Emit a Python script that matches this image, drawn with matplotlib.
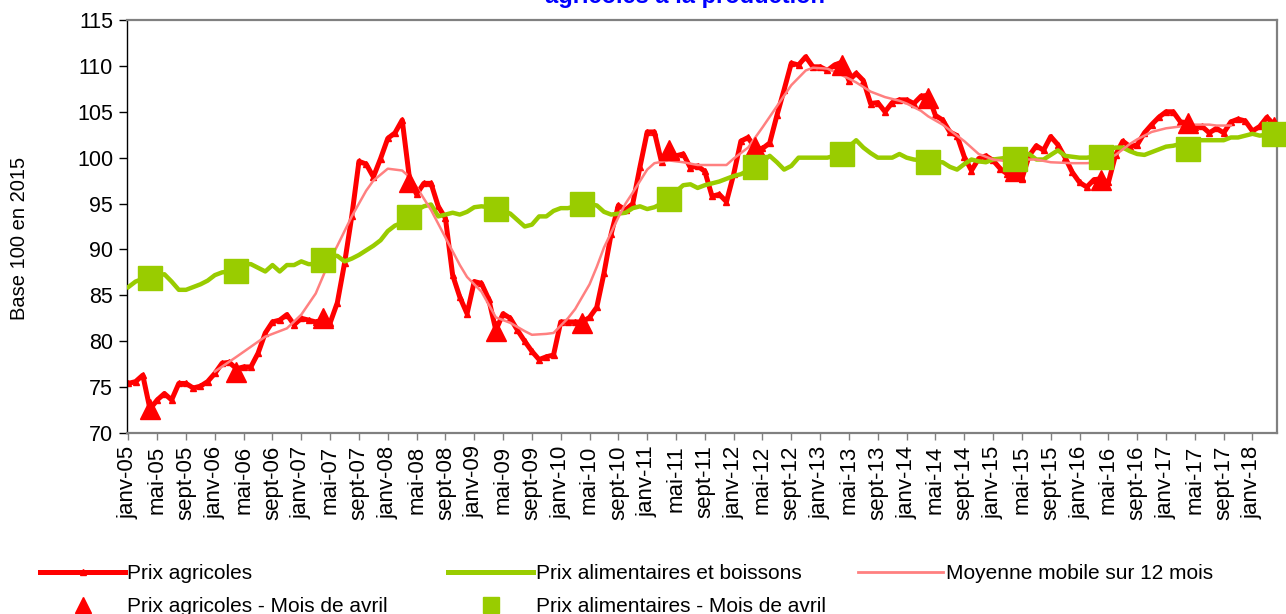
import matplotlib
matplotlib.use("Agg")
import matplotlib.pyplot as plt
from matplotlib.lines import Line2D
import numpy as np

plt.rcParams["font.family"] = ["Liberation Sans", "DejaVu Sans"]

# Indices mensuels, janv-05 .. avril-18 (base 100 en 2015)
prix_agricoles = [
    75.4, 75.6, 76.3, 72.6, 73.6, 74.3, 73.6, 75.4, 75.4, 74.9, 75.1, 75.6,
    76.5, 77.6, 77.7, 77.0, 77.2, 77.2, 78.7, 80.9, 82.1, 82.3, 82.9, 81.8,
    82.5, 82.3, 82.1, 82.3, 82.0, 84.2, 88.5, 93.6, 99.6, 99.3, 97.9, 99.9,
    102.1, 102.7, 104.1, 97.8, 96.0, 97.2, 97.2, 94.7, 93.4, 87.2, 84.8, 83.0,
    86.5, 86.3, 84.6, 81.2, 83.0, 82.5, 81.2, 80.0, 78.9, 78.0, 78.3, 78.5,
    82.1, 82.1, 82.1, 82.1, 82.6, 83.7, 87.4, 91.7, 94.8, 94.3, 95.0, 99.0,
    102.8, 102.8, 99.5, 100.6, 100.2, 100.4, 98.9, 99.1, 98.5, 95.8, 96.0, 95.2,
    98.2, 101.8, 102.2, 101.0, 101.0, 101.6, 104.6, 107.4, 110.3, 110.1, 111.0, 109.9,
    109.9, 109.5, 110.1, 110.4, 108.4, 109.2, 108.4, 105.9, 106.0, 105.0, 106.0, 106.3,
    106.3, 105.9, 106.7, 106.8, 104.6, 104.1, 102.8, 102.4, 100.1, 98.6, 99.9, 100.2,
    99.7, 98.8, 98.2, 98.2, 97.7, 100.2, 101.3, 100.8, 102.3, 101.4, 100.0, 98.4,
    97.3, 96.8, 97.6, 97.7, 97.3, 100.3, 101.8, 101.2, 101.4, 102.7, 103.6, 104.4,
    105.0, 105.0, 103.9, 103.8, 103.3, 103.4, 102.7, 103.2, 102.7, 103.9, 104.2, 104.0,
    102.9, 103.4, 104.4, 103.6,
]

prix_alimentaires = [
    85.9, 86.5, 86.8, 86.9, 87.1, 87.3, 86.5, 85.6, 85.6, 85.9, 86.2, 86.6,
    87.2, 87.5, 87.6, 87.7, 88.4, 88.4, 88.0, 87.6, 88.3, 87.6, 88.3, 88.3,
    88.7, 88.4, 88.4, 88.7, 89.3, 89.3, 88.7, 89.0, 89.4, 89.9, 90.4, 91.0,
    92.0, 92.6, 92.9, 93.6, 94.3, 94.7, 94.9, 93.6, 93.8, 94.0, 93.8, 94.1,
    94.6, 94.7, 94.6, 94.5, 94.2, 93.9, 93.2, 92.5, 92.7, 93.6, 93.6, 94.2,
    94.5, 94.5, 94.7, 95.0, 94.9, 94.8, 94.1, 93.8, 93.9, 94.0, 94.5, 94.7,
    94.4, 94.6, 95.0, 95.6, 96.3, 97.0, 97.1, 96.7, 97.0, 97.2, 97.4, 97.7,
    98.0, 98.2, 98.6, 99.1, 99.6, 100.2, 99.5, 98.7, 99.1, 100.0, 100.0, 100.0,
    100.0, 100.0, 100.2, 100.6, 101.2, 101.9, 101.1, 100.5, 100.0, 100.0, 100.0, 100.4,
    100.0, 99.8, 99.7, 99.6, 99.5, 99.5, 99.0, 98.7, 99.3, 99.8, 99.6, 99.5,
    99.8, 99.9, 100.0, 100.0, 100.2, 100.4, 99.8, 99.8, 100.3, 100.8, 100.2, 100.1,
    100.0, 100.0, 100.1, 100.4, 100.9, 101.1, 101.1, 100.7, 100.4, 100.3, 100.6, 100.9,
    101.2, 101.3, 101.5, 101.7, 101.9, 101.9, 101.9, 101.9, 101.9, 102.2, 102.2, 102.4,
    102.6, 102.4, 102.5, 102.6,
]

# moyenne mobile sur 12 mois
ma_mois = [12, 15, 19, 22, 24, 26, 28, 29, 31, 33, 34, 36, 38, 39, 40, 42, 44, 46,
           47, 49, 51, 53, 55, 56, 58, 59, 61, 62, 64, 65, 66, 68, 69, 70, 72, 73,
           75, 77, 79, 81, 83, 84, 86, 88, 90, 92, 94, 95, 97, 99, 101, 103, 105,
           107, 108, 110, 111, 113, 115, 116, 118, 120, 122, 124, 126, 128, 131,
           133, 135, 137, 139, 140, 142, 144, 146, 148, 150, 151, 153]
ma_valeurs = [76.7, 78.3, 80.5, 81.4, 82.9, 85.2, 88.9, 90.4, 93.6, 96.4, 97.5, 98.8,
              98.6, 97.9, 96.8, 94.3, 91.3, 88.3, 87.0, 85.4, 82.6, 82.0, 81.1, 80.7,
              80.8, 80.9, 82.5, 83.5, 86.2, 88.1, 90.2, 93.5, 95.0, 96.2, 98.7, 99.4,
              99.7, 99.5, 99.2, 99.2, 99.2, 99.9, 101.1, 103.3, 105.6, 107.9, 109.5,
              109.8, 109.7, 109.0, 108.2, 107.2, 106.6, 106.2, 105.9, 105.1, 104.5,
              103.6, 102.4, 101.8, 100.4, 99.8, 99.6, 99.8, 99.8, 99.5, 99.4, 99.4,
              99.5, 100.3, 101.5, 102.0, 102.8, 103.2, 103.4, 103.6, 103.6, 103.5,
              103.5]

# mois d'avril
avril_mois = [3, 15, 27, 39, 51, 63, 75, 87, 99, 111, 123, 135, 147, 159]
avril_agricoles = [72.6, 76.7, 82.5, 97.4, 81.1, 82.0, 100.8, 101.2, 110.1,
                   106.5, 98.5, 97.6, 103.8, 103.3]
avril_alimentaires = [86.85, 87.6, 88.8, 93.5, 94.4, 94.9, 95.5, 99.0, 100.4,
                      99.55, 99.9, 100.1, 100.9, 102.6]

tick_mois = list(range(0, 157, 4))
tick_labels = [
    "janv-05", "mai-05", "sept-05", "janv-06", "mai-06", "sept-06", "janv-07",
    "mai-07", "sept-07", "janv-08", "mai-08", "sept-08", "janv-09", "mai-09",
    "sept-09", "janv-10", "mai-10", "sept-10", "janv-11", "mai-11", "sept-11",
    "janv-12", "mai-12", "sept-12", "janv-13", "mai-13", "sept-13", "janv-14",
    "mai-14", "sept-14", "janv-15", "mai-15", "sept-15", "janv-16", "mai-16",
    "sept-16", "janv-17", "mai-17", "sept-17", "janv-18",
]

ROUGE = "#FF0000"
VERT = "#99CC00"
ROSE = "#FF8080"
GRIS = "#808080"

W, H = 1286, 614
fig = plt.figure(figsize=(W / 100, H / 100), dpi=100)
ax = fig.add_axes([127 / W, 1 - 433 / H, (1277 - 127) / W, (433 - 20) / H])

mois = np.arange(len(prix_agricoles))
ax.plot(mois, prix_agricoles, color=ROUGE, lw=3.6, marker="^", ms=4, zorder=2)
ax.plot(mois, prix_alimentaires, color=VERT, lw=3.2, zorder=3)
ax.plot(ma_mois, ma_valeurs, color=ROSE, lw=1.8, zorder=4)
ax.plot(avril_mois, avril_agricoles, ls="none", marker="^", ms=15, color=ROUGE,
        zorder=5, clip_on=False)
ax.plot(avril_mois, avril_alimentaires, ls="none", marker="s", ms=17, color=VERT,
        zorder=6, clip_on=False)

ax.set_xlim(-0.19, 159.4)
ax.set_ylim(70, 115)
ax.set_yticks(range(70, 116, 5))
ax.tick_params(axis="y", direction="out", length=6, width=1, labelsize=15.5, pad=4)
ax.set_xticks(tick_mois)
ax.set_xticklabels(tick_labels, rotation=90, fontsize=16)
ax.tick_params(axis="x", direction="out", length=5, width=1, color=GRIS, pad=4)

for side in ("top", "right", "bottom"):
    ax.spines[side].set_color(GRIS)
    ax.spines[side].set_linewidth(1.6)
ax.spines["left"].set_color("black")
ax.spines["left"].set_linewidth(1.0)

fig.text(20 / W, 1 - 238 / H, "Base 100 en 2015", rotation=90, fontsize=14.5,
         ha="center", va="center")
fig.text(685 / W, 1 - 3.3 / H, "agricoles à la production", color="#0000FF",
         fontsize=17, fontweight="bold", ha="center", va="baseline")

legend_cols = [
    (40, [Line2D([], [], color=ROUGE, lw=3.6, marker="^", ms=5),
          Line2D([], [], ls="none", color=ROUGE, marker="^", ms=11)],
     ["Prix agricoles", "Prix agricoles - Mois de avril"]),
    (448, [Line2D([], [], color=VERT, lw=3.6),
           Line2D([], [], ls="none", color=VERT, marker="s", ms=11)],
     ["Prix alimentaires et boissons", "Prix alimentaires - Mois de avril"]),
    (858, [Line2D([], [], color=ROSE, lw=2)],
     ["Moyenne mobile sur 12 mois"]),
]
for x0, handles, labels in legend_cols:
    fig.legend(handles, labels, loc="upper left",
               bbox_to_anchor=(x0 / W, 1 - 564 / H), frameon=False,
               fontsize=15, handlelength=4.1, handletextpad=0.1,
               labelspacing=0.68, borderpad=0, borderaxespad=0)

fig.savefig("out.png", dpi=100)
